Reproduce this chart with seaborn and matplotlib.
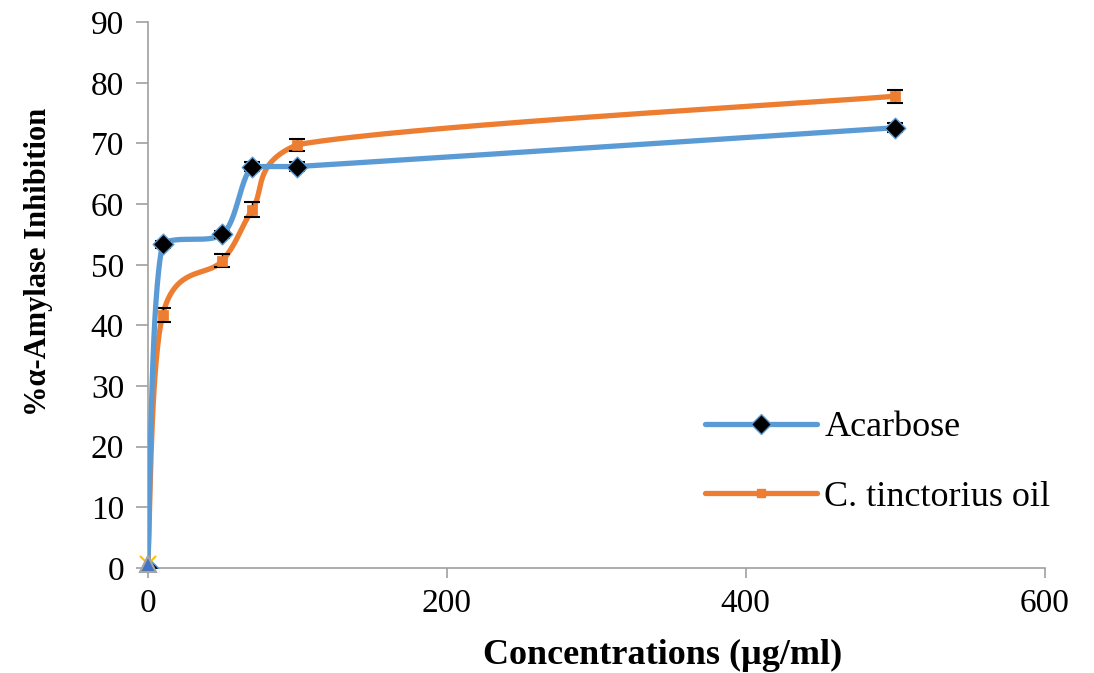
import numpy as np
import pandas as pd
import matplotlib
matplotlib.use("Agg")
import matplotlib.pyplot as plt
import seaborn as sns
from matplotlib.lines import Line2D

conc = [0, 10, 50, 70, 100, 500]
acarbose = [0.0, 53.4, 55.0, 66.2, 66.2, 72.6]
acarbose_err = [0.0, 0.6, 0.6, 0.8, 0.7, 0.7]
tinctorius = [0.0, 41.7, 50.7, 59.1, 69.8, 77.8]
tinctorius_err = [0.0, 1.2, 1.1, 1.3, 1.0, 1.1]

sns.set_style("white")
plt.rcParams['font.family'] = ['Liberation Serif', 'DejaVu Serif']
plt.rcParams['text.color'] = 'black'
plt.rcParams['axes.labelcolor'] = 'black'

fig = plt.figure(figsize=(10.94, 6.73), dpi=100)
ax = fig.add_axes([0.135, 0.156, 0.820, 0.811])
ax.set_xlim(0, 600)
ax.set_ylim(0, 90)

BLUE = '#5B9BD5'
ORANGE = '#ED7D31'


def smooth(xs, ys, n=60):
    # Excel-like smoothed line: cardinal Bezier (tension 1/6) with control
    # points clamped to each segment's box (no loops / overshoot)
    P = np.column_stack([np.asarray(xs, float), np.asarray(ys, float)])
    t = np.linspace(0, 1, n)[:, None]
    out = []
    for i in range(len(P) - 1):
        p0 = P[i - 1] if i > 0 else P[i]
        p1, p2 = P[i], P[i + 1]
        p3 = P[i + 2] if i + 2 < len(P) else P[i + 1]
        c1 = p1 + (p2 - p0) / 6.0
        c2 = p2 - (p3 - p1) / 6.0
        lo = np.minimum(p1, p2)
        hi = np.maximum(p1, p2)
        c1 = np.clip(c1, lo, hi)
        c2 = np.clip(c2, lo, hi)
        seg = (1 - t) ** 3 * p1 + 3 * (1 - t) ** 2 * t * c1 + 3 * (1 - t) * t ** 2 * c2 + t ** 3 * p2
        out.append(seg)
    S = np.vstack(out)
    return S[:, 0], S[:, 1]


sx, sy = smooth(conc, tinctorius)
ax.plot(sx, sy, color=ORANGE, lw=3.8, solid_capstyle='round', zorder=2)
ax.errorbar(conc[1:], tinctorius[1:], yerr=tinctorius_err[1:], fmt='none',
            ecolor='black', elinewidth=1.0, capsize=6, capthick=1.5, zorder=3)
sns.scatterplot(x=conc, y=tinctorius, marker='s', s=45, color=ORANGE,
                edgecolor=ORANGE, ax=ax, zorder=4, legend=False)

bx, by = smooth(conc, acarbose)
ax.plot(bx, by, color=BLUE, lw=3.8, solid_capstyle='round', zorder=5)
ax.errorbar(conc[1:], acarbose[1:], yerr=acarbose_err[1:], fmt='none',
            ecolor='black', elinewidth=1.0, capsize=6, capthick=1.5, zorder=6)
sns.scatterplot(x=conc, y=acarbose, marker='D', s=110, color='black',
                edgecolor=BLUE, linewidth=1.0, ax=ax, zorder=7, legend=False)

# extra overlapping markers at origin
ax.plot([0], [0.6], marker='x', ms=12, mew=1.5, color='#FFC000', zorder=8, clip_on=False)
ax.plot([0], [0.6], marker='^', ms=11, mfc='#4472C4', mec='#A5A5A5', mew=1.5, zorder=9, clip_on=False)

ax.set_xticks([0, 200, 400, 600])
ax.set_yticks(range(0, 91, 10))
ax.tick_params(axis='both', labelsize=24, labelcolor='black')
ax.tick_params(axis='y', direction='out', length=9, width=1.2, color='#A0A0A0', left=True, pad=8)
ax.tick_params(axis='x', direction='out', length=7, width=1.2, color='#A0A0A0', bottom=True, pad=8)
for s in ['top', 'right']:
    ax.spines[s].set_visible(False)
for s in ['left', 'bottom']:
    ax.spines[s].set_color('#A0A0A0')
    ax.spines[s].set_linewidth(1.2)

ax.set_xlabel('Concentrations (µg/ml)', fontsize=26, fontweight='bold', color='black')
ax.set_ylabel('%α-Amylase Inhibition', fontsize=22, fontweight='bold', color='black')
ax.xaxis.set_label_coords(0.574, -0.13)
ax.yaxis.set_label_coords(-0.105, 0.56)

handles = [
    Line2D([0], [0], color=BLUE, lw=3.8, marker='D', ms=10, mfc='black', mec=BLUE),
    Line2D([0], [0], color=ORANGE, lw=3.8, marker='s', ms=6, mfc=ORANGE, mec=ORANGE),
]
leg = ax.legend(handles, ['Acarbose', 'C. tinctorius oil'], loc='lower left',
                bbox_to_anchor=(0.585, 0.04), frameon=False, fontsize=26,
                handlelength=3.1, handletextpad=0.2, labelspacing=1.0)
for txt in leg.get_texts():
    txt.set_color('black')

fig.savefig('out.png', dpi=100)
